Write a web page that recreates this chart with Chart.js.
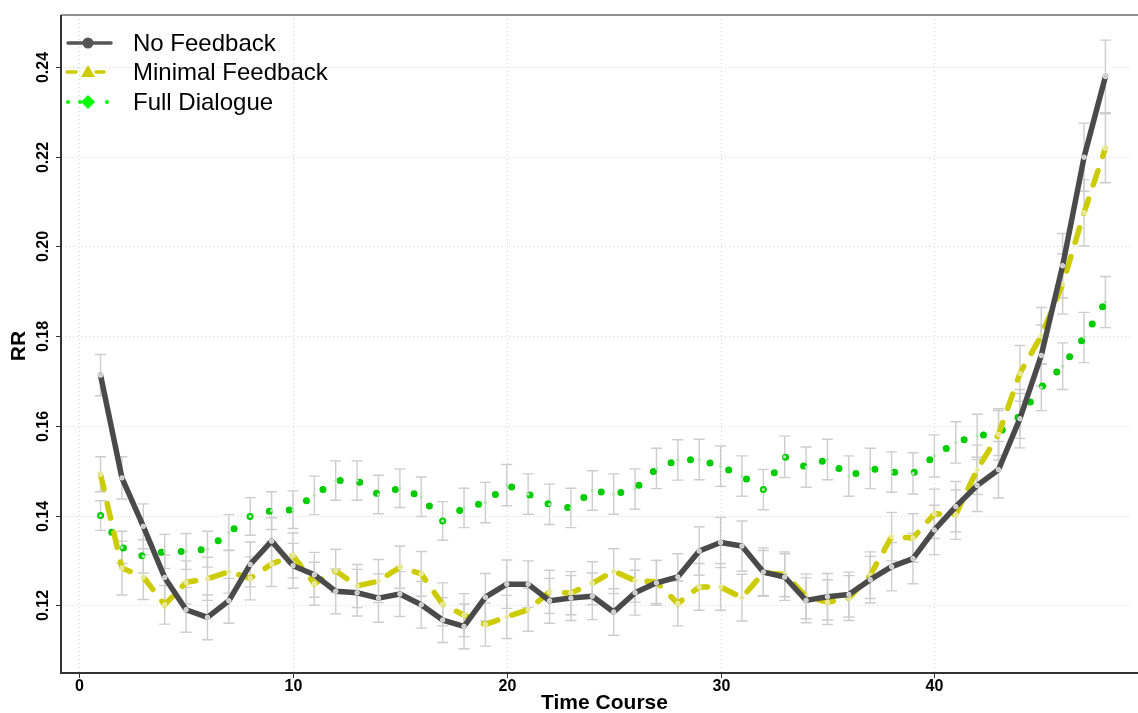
<!DOCTYPE html>
<html>
<head>
<meta charset="utf-8">
<title>RR over Time Course</title>
<script src="https://cdn.jsdelivr.net/npm/chart.js@4.4.0/dist/chart.umd.min.js"></script>
<style>
    html, body { margin: 0; padding: 0; background: #ffffff; }
    #wrap { position: relative; width: 1138px; height: 713px; }
</style>
</head>
<body>
<div id="wrap"><canvas id="rrChart"></canvas></div>
<script>
        // --- Chart Data ---
        const timeCourse = [1, 2, 3, 4, 5, 6, 7, 8, 9, 10, 11, 12, 13, 14, 15, 16, 17, 18, 19, 20, 21, 22, 23, 24,
            25, 26, 27, 28, 29, 30, 31, 32, 33, 34, 35, 36, 37, 38, 39, 40, 41, 42, 43, 44, 45, 46, 47, 48];

        const noFeedback = [0.1713, 0.1484, 0.1376, 0.1262, 0.1190, 0.1173, 0.1210, 0.1291, 0.1343, 0.1288, 0.1268, 0.1231,
            0.1228, 0.1216, 0.1225, 0.1201, 0.1167, 0.1153, 0.1218, 0.1247, 0.1247, 0.1210, 0.1216, 0.1220,
            0.1185, 0.1228, 0.1250, 0.1263, 0.1321, 0.1340, 0.1332, 0.1274, 0.1263, 0.1211, 0.1219, 0.1224,
            0.1257, 0.1286, 0.1304, 0.1368, 0.1420, 0.1467, 0.1502, 0.1616, 0.1757, 0.1957, 0.2199, 0.2379];
        const minimalFeedback = [0.1492, 0.1283, 0.1263, 0.1201, 0.1251, 0.1259, 0.1275, 0.1260, 0.1292, 0.1311, 0.1248, 0.1277,
            0.1243, 0.1254, 0.1285, 0.1270, 0.1202, 0.1178, 0.1157, 0.1174, 0.1190, 0.1230, 0.1227, 0.1249,
            0.1276, 0.1255, 0.1252, 0.1204, 0.1241, 0.1241, 0.1217, 0.1272, 0.1269, 0.1220, 0.1207, 0.1216,
            0.1267, 0.1353, 0.1350, 0.1404, 0.1402, 0.1502, 0.1581, 0.1717, 0.1801, 0.1916, 0.2075, 0.2219];
        const fullDialogue = [0.1400, 0.1329, 0.1309, 0.1320, 0.1320, 0.1325, 0.1362, 0.1398, 0.1411, 0.1413, 0.1445, 0.1478,
            0.1478, 0.1447, 0.1461, 0.1442, 0.1388, 0.1417, 0.1429, 0.1468, 0.1448, 0.1425, 0.1417, 0.1456,
            0.1448, 0.1459, 0.1505, 0.1524, 0.1525, 0.1510, 0.1488, 0.1458, 0.1531, 0.1508, 0.1525, 0.1488,
            0.1505, 0.1497, 0.1494, 0.1533, 0.1563, 0.1578, 0.1584, 0.1622, 0.1686, 0.1733, 0.1797, 0.1876];

        // half-width of the error bars
        const noFeedbackErr = [0.0046, 0.0047, 0.0050, 0.0050, 0.0050, 0.0050, 0.0050, 0.0050, 0.0052, 0.0050, 0.0050, 0.0050,
            0.0052, 0.0054, 0.0050, 0.0052, 0.0050, 0.0050, 0.0053, 0.0054, 0.0052, 0.0050, 0.0050, 0.0052,
            0.0052, 0.0050, 0.0050, 0.0052, 0.0054, 0.0056, 0.0056, 0.0054, 0.0052, 0.0050, 0.0052, 0.0050,
            0.0052, 0.0054, 0.0056, 0.0055, 0.0056, 0.0058, 0.0063, 0.0065, 0.0068, 0.0072, 0.0076, 0.0081];
        const minimalFeedbackErr = [0.0039, 0.0060, 0.0050, 0.0043, 0.0048, 0.0048, 0.0048, 0.0048, 0.0050, 0.0050, 0.0048, 0.0048,
            0.0048, 0.0048, 0.0047, 0.0050, 0.0048, 0.0048, 0.0048, 0.0048, 0.0048, 0.0048, 0.0048, 0.0048,
            0.0050, 0.0048, 0.0048, 0.0050, 0.0052, 0.0052, 0.0052, 0.0050, 0.0050, 0.0050, 0.0050, 0.0050,
            0.0052, 0.0054, 0.0054, 0.0055, 0.0055, 0.0055, 0.0057, 0.0062, 0.0063, 0.0067, 0.0074, 0.0077];
        const fullDialogueErr = [0.0033, 0.0036, 0.0037, 0.0038, 0.0040, 0.0040, 0.0040, 0.0042, 0.0042, 0.0042, 0.0043, 0.0044,
            0.0044, 0.0043, 0.0043, 0.0044, 0.0043, 0.0044, 0.0045, 0.0046, 0.0045, 0.0045, 0.0044, 0.0044,
            0.0045, 0.0045, 0.0045, 0.0045, 0.0045, 0.0045, 0.0045, 0.0045, 0.0046, 0.0045, 0.0045, 0.0045,
            0.0045, 0.0045, 0.0046, 0.0047, 0.0046, 0.0048, 0.0050, 0.0050, 0.0052, 0.0052, 0.0056, 0.0057];

        const xTicks = [0, 10, 20, 30, 40];
        const yTicks = [0.12, 0.14, 0.16, 0.18, 0.20, 0.22, 0.24];
        const yTickLabels = ['0.12', '0.14', '0.16', '0.18', '0.20', '0.22', '0.24'];
        const seriesNames = ['No Feedback', 'Minimal Feedback', 'Full Dialogue'];

        const toPoints = (vals) => timeCourse.map((t, i) => ({ x: t, y: vals[i] }));
        const errors = [noFeedbackErr, minimalFeedbackErr, fullDialogueErr];

        // --- Plugin: grid, error bars, axes, legend drawn on the chart's own scales ---
        const rPlotLook = {
            id: 'rPlotLook',
            beforeDatasetsDraw(chart) {
                const ctx = chart.ctx;
                const xs = chart.scales.x, ys = chart.scales.y;
                const area = chart.chartArea;
                ctx.save();
                // dotted grid
                ctx.strokeStyle = '#d6d6d6';
                ctx.lineWidth = 1;
                ctx.setLineDash([1, 3]);
                xTicks.forEach(v => {
                    const px = Math.round(xs.getPixelForValue(v)) + 0.5;
                    ctx.beginPath(); ctx.moveTo(px, area.top); ctx.lineTo(px, area.bottom); ctx.stroke();
                });
                yTicks.forEach(v => {
                    const py = Math.round(ys.getPixelForValue(v)) + 0.5;
                    ctx.beginPath(); ctx.moveTo(area.left, py); ctx.lineTo(area.right, py); ctx.stroke();
                });
                ctx.setLineDash([]);
                // error bars
                ctx.strokeStyle = '#cdcdcd';
                ctx.lineWidth = 1.4;
                [fullDialogue, minimalFeedback, noFeedback].forEach((vals, k) => {
                    const err = errors[2 - k];
                    vals.forEach((v, i) => {
                        const px = xs.getPixelForValue(timeCourse[i]);
                        const top = ys.getPixelForValue(v + err[i]);
                        const bot = ys.getPixelForValue(v - err[i]);
                        ctx.beginPath();
                        ctx.moveTo(px, top); ctx.lineTo(px, bot);
                        ctx.moveTo(px - 5.5, top); ctx.lineTo(px + 5.5, top);
                        ctx.moveTo(px - 5.5, bot); ctx.lineTo(px + 5.5, bot);
                        ctx.stroke();
                    });
                });
                ctx.restore();
            },
            afterDraw(chart) {
                const ctx = chart.ctx;
                const xs = chart.scales.x, ys = chart.scales.y;
                const area = chart.chartArea;
                ctx.save();
                // frame
                ctx.strokeStyle = '#6a6a6a';
                ctx.lineWidth = 1.5;
                ctx.beginPath(); ctx.moveTo(area.left, area.top); ctx.lineTo(chart.width, area.top); ctx.stroke();
                ctx.strokeStyle = '#333333';
                ctx.lineWidth = 2;
                ctx.beginPath(); ctx.moveTo(area.left, area.top); ctx.lineTo(area.left, area.bottom); ctx.lineTo(chart.width, area.bottom); ctx.stroke();

                // ticks and tick labels
                ctx.fillStyle = '#000000';
                ctx.font = 'bold 16px "Liberation Sans", Arial, sans-serif';
                ctx.lineWidth = 1;
                ctx.strokeStyle = '#333333';
                xTicks.forEach(v => {
                    const px = Math.round(xs.getPixelForValue(v)) + 0.5;
                    ctx.beginPath(); ctx.moveTo(px, area.bottom); ctx.lineTo(px, area.bottom + 5); ctx.stroke();
                    ctx.textAlign = 'center'; ctx.textBaseline = 'middle';
                    ctx.fillText(String(v), px, area.bottom + 14);
                });
                yTicks.forEach((v, i) => {
                    const py = Math.round(ys.getPixelForValue(v)) + 0.5;
                    ctx.beginPath(); ctx.moveTo(area.left - 5, py); ctx.lineTo(area.left, py); ctx.stroke();
                    ctx.save();
                    ctx.translate(area.left - 17, py);
                    ctx.rotate(-Math.PI / 2);
                    ctx.textAlign = 'center'; ctx.textBaseline = 'middle';
                    ctx.fillText(yTickLabels[i], 0, 0);
                    ctx.restore();
                });

                // axis titles
                ctx.font = 'bold 21px "Liberation Sans", Arial, sans-serif';
                ctx.textAlign = 'center'; ctx.textBaseline = 'middle';
                ctx.fillText('Time Course', (area.left + chart.width) / 2 + 5, 703);
                ctx.save();
                ctx.translate(19, (area.top + area.bottom) / 2 + 2);
                ctx.rotate(-Math.PI / 2);
                ctx.fillText('RR', 0, 0);
                ctx.restore();

                // legend
                const rows = [43, 72, 102];
                ctx.lineCap = 'round';
                // No Feedback
                ctx.strokeStyle = '#555555'; ctx.fillStyle = '#555555'; ctx.lineWidth = 3.5;
                ctx.beginPath(); ctx.moveTo(68, rows[0]); ctx.lineTo(111, rows[0]); ctx.stroke();
                ctx.beginPath(); ctx.arc(88, rows[0], 5.5, 0, Math.PI * 2); ctx.fill();
                // Minimal Feedback
                ctx.strokeStyle = '#cccc00'; ctx.fillStyle = '#cccc00';
                ctx.beginPath(); ctx.moveTo(67, rows[1]); ctx.lineTo(76, rows[1]); ctx.stroke();
                ctx.beginPath(); ctx.moveTo(96, rows[1]); ctx.lineTo(104, rows[1]); ctx.stroke();
                ctx.beginPath(); ctx.moveTo(88, rows[1] - 7); ctx.lineTo(95, rows[1] + 5); ctx.lineTo(81, rows[1] + 5); ctx.closePath(); ctx.fill();
                // Full Dialogue
                ctx.fillStyle = '#00ff00';
                [68, 80, 107].forEach(dx => { ctx.beginPath(); ctx.arc(dx, rows[2], 2, 0, Math.PI * 2); ctx.fill(); });
                ctx.beginPath(); ctx.moveTo(88, rows[2] - 7); ctx.lineTo(95, rows[2]); ctx.lineTo(88, rows[2] + 7); ctx.lineTo(81, rows[2]); ctx.closePath(); ctx.fill();

                ctx.fillStyle = '#000000';
                ctx.font = '24px "Liberation Sans", Arial, sans-serif';
                ctx.textAlign = 'left'; ctx.textBaseline = 'middle';
                seriesNames.forEach((name, i) => ctx.fillText(name, 133, rows[i] + 1));
                ctx.restore();
            }
        };

        // --- RR Chart ---
        const rrCtx = document.getElementById('rrChart').getContext('2d');
        const rrChart = new Chart(rrCtx, {
            type: 'line',
            data: {
                datasets: [{
                    label: seriesNames[0],
                    data: toPoints(noFeedback),
                    borderColor: '#4a4a4a',
                    borderWidth: 5.5,
                    borderCapStyle: 'round',
                    borderJoinStyle: 'round',
                    pointRadius: 2.2,
                    pointBackgroundColor: '#c8c8c8',
                    pointBorderColor: '#e6e6e6',
                    pointBorderWidth: 1,
                    tension: 0,
                    order: 1
                }, {
                    label: seriesNames[1],
                    data: toPoints(minimalFeedback),
                    borderColor: '#cccc00',
                    borderWidth: 5.5,
                    borderDash: [15, 15],
                    borderCapStyle: 'round',
                    pointRadius: 2.2,
                    pointBackgroundColor: '#e4e48c',
                    pointBorderColor: '#f0f0c0',
                    pointBorderWidth: 1,
                    tension: 0,
                    order: 2
                }, {
                    label: seriesNames[2],
                    data: toPoints(fullDialogue),
                    borderColor: '#00cc00',
                    borderWidth: 7,
                    borderDash: [0, 20],
                    borderCapStyle: 'round',
                    pointRadius: 1.6,
                    pointBackgroundColor: '#b4e2b4',
                    pointBorderWidth: 0,
                    tension: 0,
                    order: 3
                }]
            },
            options: {
                responsive: true,
                maintainAspectRatio: false,
                animation: false,
                layout: { padding: { left: 61, top: 15, right: 0, bottom: 40 } },
                plugins: {
                    title: { display: false },
                    legend: { display: false },
                    tooltip: { enabled: false }
                },
                scales: {
                    x: { type: 'linear', display: false, min: -0.85, max: 49.29 },
                    y: { type: 'linear', display: false, min: 0.1049, max: 0.2516 }
                }
            },
            plugins: [rPlotLook]
        });
</script>
</body>
</html>
